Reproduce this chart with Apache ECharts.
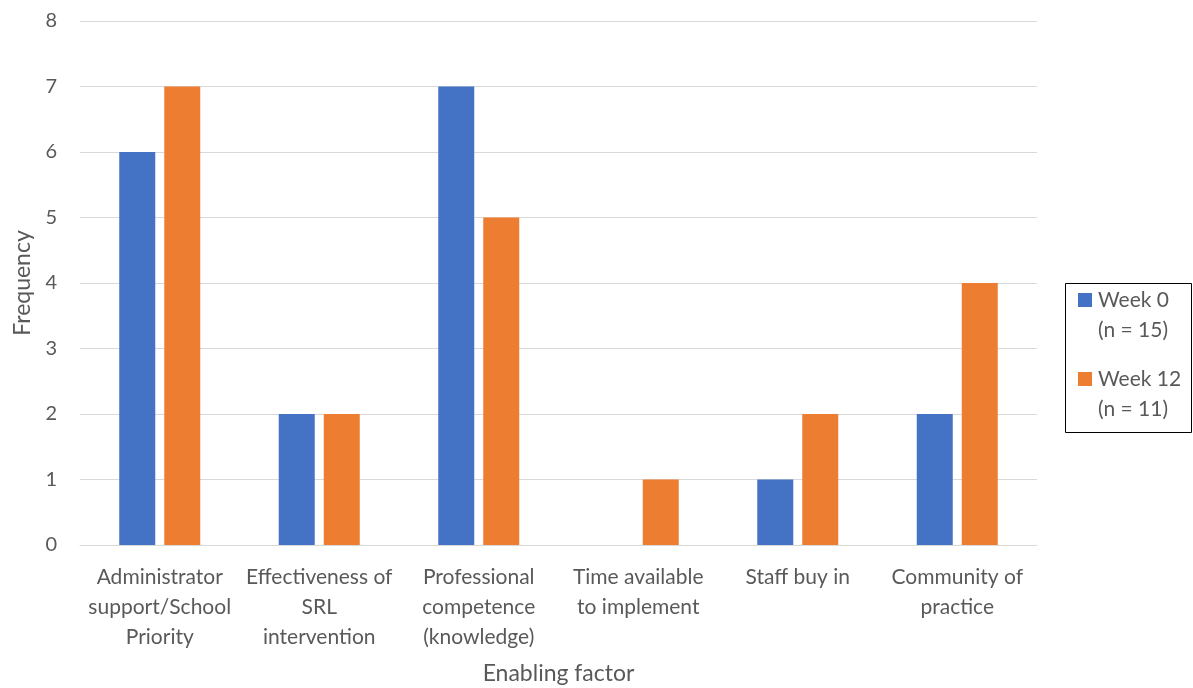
<!DOCTYPE html>
<html>
<head>
<meta charset="utf-8">
<style>
  html, body { margin: 0; padding: 0; background: #fff; }
  #chart { width: 1193px; height: 688px; }
</style>
<script src="https://cdn.jsdelivr.net/npm/echarts@6/dist/echarts.min.js"></script>
</head>
<body>
<div id="chart"></div>
<script>
// Enabling factors and frequencies reported at each time point
const categories = [
  'Administrator\nsupport/School\nPriority',
  'Effectiveness of\nSRL\nintervention',
  'Professional\ncompetence\n(knowledge)',
  'Time available\nto implement',
  'Staff buy in',
  'Community of\npractice'
];
const week0 = [6, 2, 7, 0, 1, 2];
const week12 = [7, 2, 5, 1, 2, 4];
const seriesNames = ['Week 0\n(n = 15)', 'Week 12\n(n = 11)'];
const seriesColors = ['#4472C4', '#ED7D31'];
const yTicks = [0, 1, 2, 3, 4, 5, 6, 7, 8];

const FONT = 'Lato, "Open Sans", sans-serif';
const TEXT = '#595959';

const chart = echarts.init(document.getElementById('chart'));

// Boxed legend on the right: a square swatch beside each two-line series name
const legendLeft = 1065, legendTop = 283;
const legendItems = [];
seriesNames.forEach((name, i) => {
  const y = legendTop + 10 + i * 79;
  legendItems.push({
    type: 'rect',
    shape: { x: legendLeft + 13, y: y, width: 14, height: 14 },
    style: { fill: seriesColors[i] }
  });
  legendItems.push({
    type: 'text',
    x: legendLeft + 33,
    y: y - 8,
    style: {
      text: name,
      fill: TEXT,
      font: '21px ' + FONT,
      lineHeight: 30
    }
  });
});

chart.setOption({
  animation: false,
  textStyle: { fontFamily: FONT },
  grid: { left: 80, right: 156, top: 21, bottom: 143, outerBoundsMode: 'none' },
  xAxis: {
    type: 'category',
    data: categories,
    name: 'Enabling factor',
    nameLocation: 'middle',
    nameGap: 117,
    nameTextStyle: { color: TEXT, fontSize: 23, fontFamily: FONT },
    axisLine: { lineStyle: { color: '#d9d9d9', width: 1 } },
    axisTick: { show: false },
    axisLabel: {
      color: TEXT, fontSize: 21, fontFamily: FONT,
      lineHeight: 30, margin: 17, interval: 0
    }
  },
  yAxis: {
    type: 'value',
    min: yTicks[0],
    max: yTicks[yTicks.length - 1],
    interval: 1,
    name: 'Frequency',
    nameLocation: 'middle',
    nameGap: 46,
    nameTextStyle: { color: TEXT, fontSize: 23, fontFamily: FONT },
    axisLine: { show: false },
    axisTick: { show: false },
    axisLabel: { color: TEXT, fontSize: 20, fontFamily: FONT, margin: 23 },
    splitLine: { lineStyle: { color: '#d9d9d9', width: 1 } }
  },
  series: [
    {
      name: seriesNames[0], type: 'bar', data: week0,
      itemStyle: { color: seriesColors[0] },
      barWidth: 36, barGap: '25%'
    },
    {
      name: seriesNames[1], type: 'bar', data: week12,
      itemStyle: { color: seriesColors[1] },
      barWidth: 36, barGap: '25%'
    }
  ],
  graphic: [
    {
      type: 'rect',
      shape: { x: legendLeft + 0.5, y: legendTop + 0.5, width: 126, height: 149 },
      style: { fill: '#fff', stroke: '#000', lineWidth: 1 }
    },
    ...legendItems
  ]
});
</script>
</body>
</html>
